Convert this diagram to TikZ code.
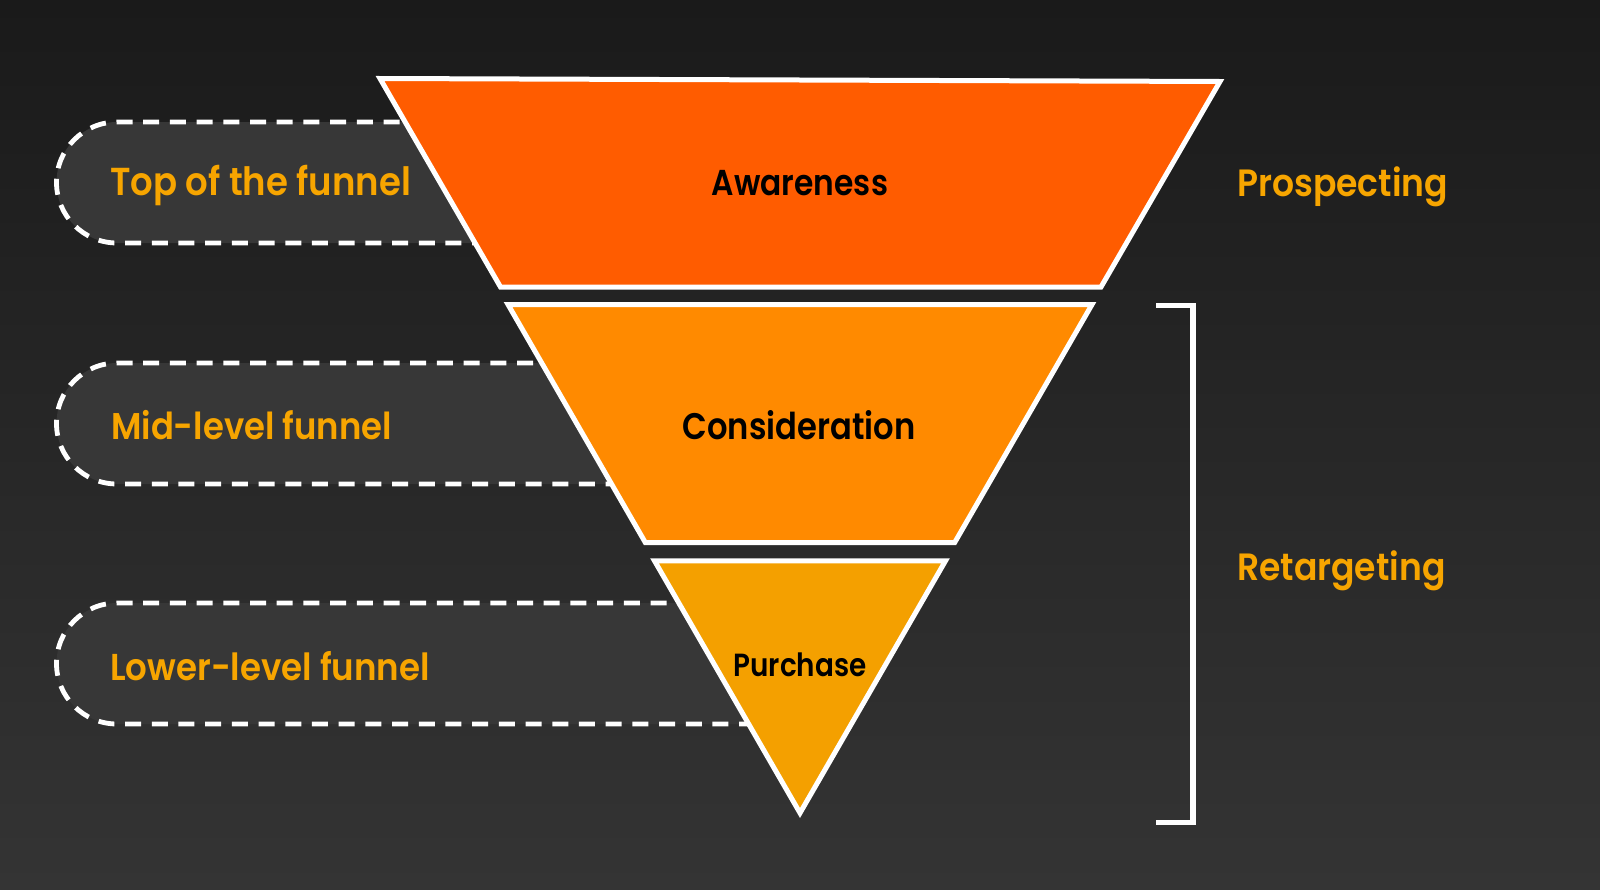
\documentclass[tikz,border=0pt]{standalone}
\usepackage{fontspec}
\setmainfont{Poppins}
\newfontfamily\lblfont{Poppins SemiBold}[FakeStretch=0.91]
\newfontfamily\stgfont{Poppins SemiBold}[FakeStretch=0.87]
\definecolor{bgtop}{HTML}{1A1A1A}
\definecolor{bgbot}{HTML}{343434}
\definecolor{pillfill}{HTML}{373737}
\definecolor{cAware}{HTML}{FF5C00}
\definecolor{cCons}{HTML}{FF8A00}
\definecolor{cPurch}{HTML}{F4A000}
\definecolor{cText}{HTML}{F7A500}
\begin{document}
\begin{tikzpicture}[x=1pt,y=-1pt,
  pill/.style={fill=pillfill, draw=white, line width=4.8pt, dash pattern=on 16pt off 10.7pt},
  seg/.style={draw=white, line width=5pt, line join=miter},
  bracketline/.style={draw=white, line width=5.5pt},
  lbl/.style={font=\lblfont\fontsize{38}{38}\selectfont, text=cText, inner sep=0pt, anchor=base west},
  stage/.style={font=\stgfont\fontsize{36}{36}\selectfont, text=black, inner sep=0pt, anchor=base}]
\begin{scope}[y=1pt]
\shade[top color=bgtop, bottom color=bgbot] (0,-889) rectangle (1600,0);
\end{scope}
\useasboundingbox (0,0) rectangle (1600,889);
% pills
\path[pill] (800,122) -- (117,122) arc[start angle=270, end angle=90, radius=60.5] -- (800,243) -- cycle;
\path[pill] (800,363) -- (117,363) arc[start angle=270, end angle=90, radius=60.5] -- (800,484) -- cycle;
\path[pill] (800,603) -- (117,603) arc[start angle=270, end angle=90, radius=60.5] -- (800,724) -- cycle;
% funnel
\path[seg, fill=cAware] (380,78.5) -- (1220,81.5) -- (1101,287) -- (500.5,287) -- cycle;
\path[seg, fill=cCons] (508,304.5) -- (1092,304.5) -- (954.7,542.5) -- (645.3,542.5) -- cycle;
\path[seg, fill=cPurch] (654.5,560.8) -- (945.5,560.8) -- (800,813) -- cycle;
% bracket
\coordinate (bt) at (1156,305.5);
\coordinate (bb) at (1156,822.5);
\draw[bracketline] (bt) -- ++(37,0) |- (bb);
% texts
\node[stage] (aw) at (800,195.7) {Awareness};
\node[stage, font=\stgfont\fontsize{37}{37}\selectfont] (co) at (799,439.3) {Consideration};
\node[stage, font=\stgfont\fontsize{32}{32}\selectfont] (pu) at (800,676) {Purchase};
\node[lbl, font=\lblfont\fontsize{39}{39}\selectfont] (top) at (110,195) {Top of the funnel};
\node[lbl, font=\lblfont\fontsize{37.2}{37.2}\selectfont] (mid) at (111,439.3) {Mid-level funnel};
\node[lbl, font=\lblfont\fontsize{37.4}{37.4}\selectfont] (low) at (110,680) {Lower-level funnel};
\node[lbl] (pro) at (1237,196) {Prospecting};
\node[lbl] (ret) at (1237,580) {Retargeting};
\end{tikzpicture}
\end{document}
